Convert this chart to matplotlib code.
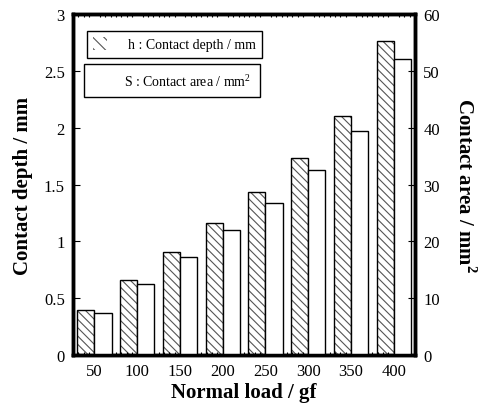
import numpy as np
import matplotlib
matplotlib.use('Agg')
import matplotlib.pyplot as plt
from matplotlib.patches import Patch
from matplotlib.ticker import MultipleLocator

plt.rcParams.update({'font.family': ['Liberation Serif', 'DejaVu Serif'],
                     'mathtext.fontset': 'custom',
                     'mathtext.rm': 'Liberation Serif',
                     'mathtext.bf': 'Liberation Serif:bold',
                     'hatch.linewidth': 0.8})

loads = ['50', '100', '150', '200', '250', '300', '350', '400']
depth = [0.40, 0.66, 0.91, 1.16, 1.43, 1.73, 2.10, 2.76]   # mm
area = [7.4, 12.5, 17.2, 22.0, 26.8, 32.6, 39.5, 52.0]    # mm^2

x = np.arange(len(loads))
w = 0.4

fig = plt.figure(figsize=(4.81, 4.06), dpi=100)
ax = fig.add_axes([0.152, 0.123, 0.711, 0.840])
ax2 = ax.twinx()

# hatched depth bars: gray hatch, then black outline
ax.bar(x - w / 2, depth, w, color='white', edgecolor='#555555', hatch='\\\\\\\\', linewidth=0)
ax.bar(x - w / 2, depth, w, fill=False, edgecolor='black', linewidth=1)
ax2.bar(x + w / 2, area, w, color='white', edgecolor='black', linewidth=1)

ax.set_xlim(-0.5, 7.5)
ax.set_ylim(0, 3)
ax2.set_ylim(0, 60)
ax.set_xticks(x)
ax.set_xticklabels(loads)
ax.set_yticks(np.arange(0, 3.01, 0.5))
ax.set_yticklabels(['0', '0.5', '1', '1.5', '2', '2.5', '3'])
ax2.set_yticks(np.arange(0, 61, 10))
ax.xaxis.set_minor_locator(MultipleLocator(0.125))

ax.tick_params(axis='x', which='major', direction='in', length=0, labelsize=12, pad=6, top=False)
ax.tick_params(axis='x', which='minor', direction='in', length=2, width=0.8, top=True, bottom=True)
ax.tick_params(axis='y', which='major', direction='in', length=5, width=0.8, labelsize=12, pad=6)
ax2.tick_params(axis='y', which='major', direction='in', length=5, width=0.8, labelsize=12, pad=6)

for a in (ax, ax2):
    for s in a.spines.values():
        s.set_linewidth(2.5)

ax.set_xlabel('Normal load / gf', fontsize=15, fontweight='bold', labelpad=2)
ax.set_ylabel('Contact depth / mm', fontsize=15, fontweight='bold', labelpad=8)
ax2.set_ylabel(r'Contact area / mm$^\mathbf{2}$', fontsize=15, fontweight='bold',
               rotation=270, labelpad=26)

h1 = Patch(facecolor='white', edgecolor='#555555', hatch='\\\\\\', linewidth=0)
h2 = Patch(facecolor='white', edgecolor='white', linewidth=0)
leg1 = ax2.legend([h1], ['h : Contact depth / mm'], loc='upper left',
                  bbox_to_anchor=(0.041, 0.95), borderaxespad=0, fontsize=10,
                  fancybox=False, edgecolor='black', framealpha=1,
                  borderpad=0.45, handlelength=1.0, handleheight=1.0,
                  handletextpad=1.5)
leg1.get_frame().set_linewidth(1)
ax2.add_artist(leg1)
leg2 = ax2.legend([h2], [r'S : Contact area / mm$^2$'], loc='upper left',
                  bbox_to_anchor=(0.032, 0.853), borderaxespad=0, fontsize=10,
                  fancybox=False, edgecolor='black', framealpha=1,
                  borderpad=0.6, handlelength=1.5, handletextpad=0.8)
leg2.get_frame().set_linewidth(1)

fig.savefig('out.png', dpi=100)
